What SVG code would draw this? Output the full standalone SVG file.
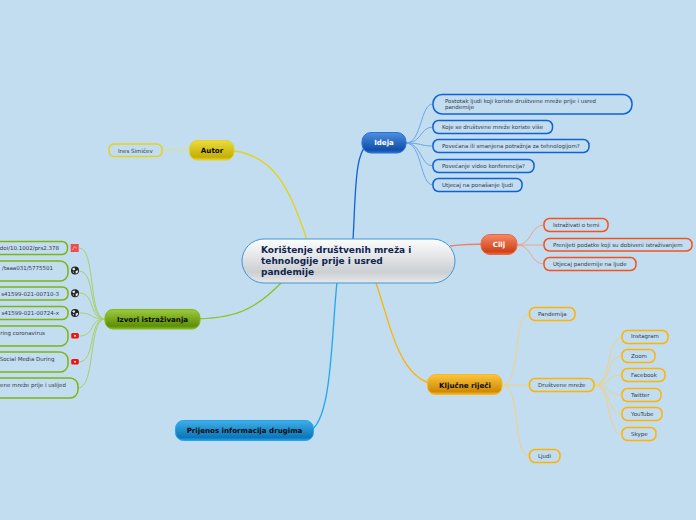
<svg xmlns="http://www.w3.org/2000/svg" width="696" height="520" viewBox="0 0 696 520">
<defs>
<style>
text{font-family:"DejaVu Sans","Liberation Sans",sans-serif}
.t{font-size:5.5px;fill:#333b48}
.m{font-size:7.1px;font-weight:bold;fill:#0a0a0a}
.n{fill:#c2dcf0;stroke-width:1.5}
.c{fill:none;stroke-width:1}
.th{fill:none;stroke-width:1.3}
.b{stroke:#0f62d6}.o{stroke:#f4511e}.y{stroke:#ffb300}.g{stroke:#e3d21e}.l{stroke:#7cb510}
</style>
<linearGradient id="gc" x1="0" y1="0" x2="0" y2="1"><stop offset="0" stop-color="#fdfdfd"/><stop offset=".75" stop-color="#ccd0d3"/><stop offset="1" stop-color="#e6e8ea"/></linearGradient>
<linearGradient id="gb" x1="0" y1="0" x2="0" y2="1"><stop offset="0" stop-color="#4d8fe0"/><stop offset=".85" stop-color="#0f4fa8"/><stop offset="1" stop-color="#2a72d4"/></linearGradient>
<linearGradient id="go" x1="0" y1="0" x2="0" y2="1"><stop offset="0" stop-color="#f58a66"/><stop offset=".85" stop-color="#d0421a"/><stop offset="1" stop-color="#ee6640"/></linearGradient>
<linearGradient id="gy" x1="0" y1="0" x2="0" y2="1"><stop offset="0" stop-color="#fcc63e"/><stop offset=".85" stop-color="#d08a04"/><stop offset="1" stop-color="#fbb81e"/></linearGradient>
<linearGradient id="gg" x1="0" y1="0" x2="0" y2="1"><stop offset="0" stop-color="#ebdc3a"/><stop offset=".85" stop-color="#c4ae08"/><stop offset="1" stop-color="#e4d224"/></linearGradient>
<linearGradient id="gl" x1="0" y1="0" x2="0" y2="1"><stop offset="0" stop-color="#9ccb3e"/><stop offset=".85" stop-color="#5f8f06"/><stop offset="1" stop-color="#86b81c"/></linearGradient>
<linearGradient id="gs" x1="0" y1="0" x2="0" y2="1"><stop offset="0" stop-color="#3eaeea"/><stop offset=".85" stop-color="#0b77b8"/><stop offset="1" stop-color="#22a4ee"/></linearGradient>
<g id="globe"><circle r="4" fill="#222"/><path d="M-3-1.5 L-.8-3 L.3-1 L-1.2-.1Z M.6.4 L3.2-.3 L2.5 2.2 L.8 3.2Z M-2.5 1.2 L-1.2 1.1 L-1.1 2.8Z" fill="#e8eef2"/></g>
<g id="yt"><rect x="-3.800" y="-2.800" width="7.600" height="5.600" rx="1.500" fill="#f01010"/><circle r="1" fill="#fff"/></g>
</defs>
<rect width="696" height="520" fill="#c2dcf0"/>
<g id="connectors">
<g class="th">
<path d="M353 240C356 190 354 143 373 143" stroke="#0f62d6" fill="none"/>
<path d="M450 246C465 244 470 244 490 244" stroke="#ee8068" fill="none"/>
<path d="M376 283C392 330 400 383 440 385" stroke="#ffb300" fill="none"/>
<path d="M307 240C290 190 275 152 225 150" stroke="#e3d21e" fill="none"/>
<path d="M282 282C255 310 235 319 190 319" stroke="#8cc21e" fill="none"/>
<path d="M337 282C331 340 332 424 308 432" stroke="#1ea8ee" fill="none"/>
</g>
<g class="c" stroke="#6ea6e6">
<path d="M406 143C422 143 420 104 433 104"/>
<path d="M406 143C422 143 420 127 433 127"/>
<path d="M406 143C422 143 420 146 433 146"/>
<path d="M406 143C422 143 420 166 433 166"/>
<path d="M406 143C422 143 420 185 433 185"/>
</g>
<g class="c" stroke="#eda493">
<path d="M517 245C532 245 530 225 544 225"/>
<path d="M517 245C532 245 530 245 544 245"/>
<path d="M517 245C532 245 530 264 544 264"/>
</g>
<g class="c" stroke="#f2d27e">
<path d="M502 385C522 385 512 314 529 314"/>
<path d="M502 385C515 385 518 385 529 385"/>
<path d="M502 385C522 385 512 456 529 456"/>
<path d="M594 385C612 385 606 337 622 337"/>
<path d="M594 385C612 385 606 356 622 356"/>
<path d="M594 385C612 385 606 375 622 375"/>
<path d="M594 385C612 385 606 395 622 395"/>
<path d="M594 385C612 385 606 414 622 414"/>
<path d="M594 385C612 385 606 434 622 434"/>
</g>
<path class="c" stroke="#e8df72" d="M189 150C175 150 175 150 162 150"/>
<g class="c" stroke="#a9d06a">
<path d="M105 319C88 319 96 248 79 248"/>
<path d="M105 319C88 319 96 271 79 271"/>
<path d="M105 319C88 319 96 293 79 293"/>
<path d="M105 319C88 319 96 313 79 313"/>
<path d="M105 319C88 319 96 336 79 336"/>
<path d="M105 319C88 319 96 362 79 362"/>
<path d="M105 319C88 319 96 388 78 388"/>
</g>
</g>
<g id="central"><rect x="242" y="239" width="213" height="44" rx="22" fill="url(#gc)" stroke="#3e96d6" stroke-width="1"/>
<text font-size="9" font-weight="bold" fill="#10244e"><tspan x="261" y="252.700">Korištenje društvenih mreža i</tspan><tspan x="261" y="264.200">tehnologije prije i usred</tspan><tspan x="261" y="275">pandemije</tspan></text></g>
<g id="ideja"><rect x="362" y="132.500" width="44" height="20.500" rx="9" fill="url(#gb)" stroke="#2a72d4"/><text x="384" y="145" text-anchor="middle" class="m" style="fill:#fff">Ideja</text></g>
<g id="i1"><rect class="n b" x="433" y="94.500" width="199" height="19.500" rx="9"/><text class="t"><tspan x="445" y="103">Postotak ljudi koji koriste društvene mreže prije i usred</tspan><tspan x="445" y="109">pandemije</tspan></text></g>
<g id="i2"><rect class="n b" x="433" y="120.500" width="119.500" height="13" rx="5.500"/><text class="t" x="442" y="129">Koje se društvene mreže koriste više</text></g>
<g id="i3"><rect class="n b" x="433" y="139.500" width="156" height="13" rx="5.500"/><text class="t" x="442" y="148">Povećana ili smanjena potražnja za tehnologijom?</text></g>
<g id="i4"><rect class="n b" x="433" y="159.500" width="101" height="13" rx="5.500"/><text class="t" x="442" y="168">Povećanje video konferencija?</text></g>
<g id="i5"><rect class="n b" x="433" y="178.500" width="89" height="13" rx="5.500"/><text class="t" x="442" y="187">Utjecaj na ponašanje ljudi</text></g>
<g id="cilj"><rect x="481" y="234.500" width="36" height="20" rx="9" fill="url(#go)" stroke="#ee6640"/><text x="499" y="247" text-anchor="middle" class="m" style="fill:#fff">Cilj</text></g>
<g id="c1"><rect class="n o" x="544" y="218.500" width="64" height="13" rx="5.500"/><text class="t" x="553" y="227">Istraživati o temi</text></g>
<g id="c2"><rect class="n o" x="544" y="238.500" width="148" height="12.500" rx="5.500"/><text class="t" x="553" y="247">Prenijeti podatke koji su dobiveni istraživanjem</text></g>
<g id="c3"><rect class="n o" x="544" y="257.500" width="92" height="13" rx="5.500"/><text class="t" x="553" y="266">Utjecaj pandemije na ljude</text></g>
<g id="kljucne"><rect x="427.500" y="374.500" width="74.500" height="20" rx="8" fill="url(#gy)" stroke="#fbb81e"/><text x="465" y="387.500" text-anchor="middle" class="m">Ključne riječi</text></g>
<g id="k1"><rect class="n y" x="529.500" y="307.500" width="45.500" height="13" rx="5.500"/><text class="t" x="538" y="316">Pandemija</text></g>
<g id="k2"><rect class="n y" x="529.500" y="378.500" width="64.500" height="13" rx="5.500"/><text class="t" x="538" y="387">Društvene mreže</text></g>
<g id="k3"><rect class="n y" x="529.500" y="449.500" width="30.500" height="13" rx="5.500"/><text class="t" x="538" y="458">Ljudi</text></g>
<g id="s1"><rect class="n y" x="622" y="330.500" width="46" height="13" rx="5.500"/><text class="t" x="631" y="338">Instagram</text></g>
<g id="s2"><rect class="n y" x="622" y="349.500" width="33" height="13" rx="5.500"/><text class="t" x="631" y="358">Zoom</text></g>
<g id="s3"><rect class="n y" x="622" y="368.500" width="43" height="13" rx="5.500"/><text class="t" x="631" y="377">Facebook</text></g>
<g id="s4"><rect class="n y" x="622" y="388.500" width="39" height="13" rx="5.500"/><text class="t" x="631" y="397">Twitter</text></g>
<g id="s5"><rect class="n y" x="622" y="407.500" width="40" height="13" rx="5.500"/><text class="t" x="631" y="416">YouTube</text></g>
<g id="s6"><rect class="n y" x="622" y="427.500" width="34" height="13" rx="5.500"/><text class="t" x="631" y="436">Skype</text></g>
<g id="autor"><rect x="189.500" y="140.500" width="44.500" height="19.500" rx="8" fill="url(#gg)" stroke="#e4d224"/><text x="212" y="153" text-anchor="middle" class="m">Autor</text></g>
<g id="ines"><rect class="n g" x="109" y="144" width="53" height="12.500" rx="5"/><text class="t" x="118" y="152.700">Ines Šimičev</text></g>
<g id="izvori"><rect x="105" y="309.500" width="95" height="19.500" rx="8" fill="url(#gl)" stroke="#86b81c"/><text x="152.500" y="322" text-anchor="middle" class="m">Izvori istraživanja</text></g>
<g id="z1"><rect class="n l" x="-20" y="241.500" width="87.500" height="13" rx="5.500"/><text class="t" x="59" y="250.300" text-anchor="end">doi/10.1002/prs2.378</text>
<rect x="70.700" y="244" width="8" height="8" fill="#ee4c4c"/><path d="M72.500 250L74.500 246.500 77 248.500" stroke="#f9b0b0" stroke-width=".8" fill="none"/></g>
<g id="z2"><rect class="n l" x="-20" y="261" width="88" height="20" rx="8"/><text class="t" x="53" y="270" text-anchor="end">/taaa031/5775501</text><use href="#globe" x="75" y="270.500"/></g>
<g id="z3"><rect class="n l" x="-20" y="287" width="88" height="13" rx="5.500"/><text class="t" x="59" y="296" text-anchor="end">s41599-021-00710-3</text><use href="#globe" x="75" y="293.300"/></g>
<g id="z4"><rect class="n l" x="-20" y="306.500" width="88" height="13" rx="5.500"/><text class="t" x="59" y="315.300" text-anchor="end">s41599-021-00724-x</text><use href="#globe" x="75" y="313"/></g>
<g id="z5"><rect class="n l" x="-20" y="326" width="88" height="20" rx="8"/><text class="t" x="45" y="335" text-anchor="end">ring coronavirus</text><use href="#yt" x="75" y="335.700"/></g>
<g id="z6"><rect class="n l" x="-20" y="352" width="88" height="20" rx="8"/><text class="t" x="54.500" y="361" text-anchor="end">Social Media During</text><use href="#yt" x="75" y="361.700"/></g>
<g id="z7"><rect class="n l" x="-20" y="378" width="98" height="20" rx="8"/><text class="t" x="66" y="387" text-anchor="end">ene mreže prije i uslijed</text></g>
<g id="prijenos"><rect x="175.500" y="420.500" width="138" height="20" rx="8" fill="url(#gs)" stroke="#22a4ee"/><text x="244.500" y="433" text-anchor="middle" class="m">Prijenos informacija drugima</text></g>
</svg>
